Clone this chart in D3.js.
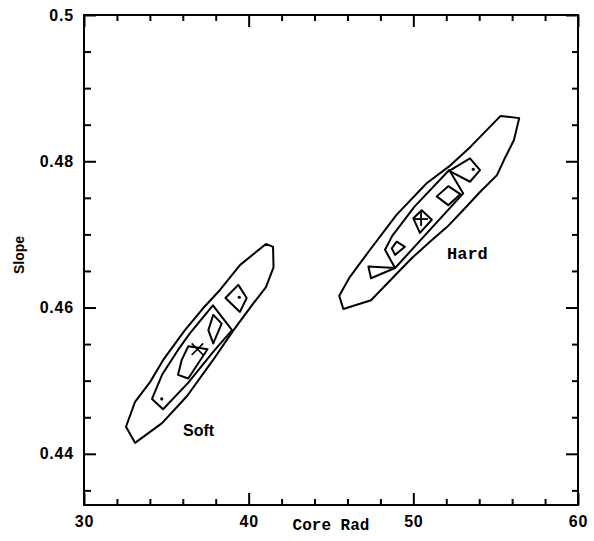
<!DOCTYPE html>
<html>
<head lang="en">
    <meta charset="UTF-8">
    <title></title>
    <script src="https://cdnjs.cloudflare.com/ajax/libs/d3/7.8.5/d3.min.js"></script>
    <style>
        body { margin: 0; background: #fff; }
    </style>
</head>
<body>

<script>

    // contour vertices: [core radius, slope]
    var softOuter = [[41.05,0.4687],[41.48,0.4683],[41.51,0.4655],[41.05,0.4628],[40.26,0.4605],
        [39.05,0.4568],[37.83,0.4528],[36.26,0.4479],[34.74,0.4442],[33.10,0.4415],[32.55,0.4437],
        [33.10,0.4471],[34.01,0.4498],[34.80,0.4528],[36.13,0.4569],[37.23,0.4599],[38.26,0.4624],
        [39.47,0.4658]];
    var softMiddle = [[37.83,0.4603],[38.99,0.4569],[37.83,0.4539],[36.32,0.4497],[34.80,0.4461],
        [34.13,0.4475],[34.74,0.4508],[35.71,0.4542],[36.44,0.4565]];
    var softInner = [
        [[39.37,0.4631],[39.88,0.4613],[39.47,0.4594],[38.59,0.4613]],
        [[37.85,0.4590],[38.36,0.4578],[37.85,0.4551],[37.55,0.4569]],
        [[36.33,0.4547],[37.50,0.4543],[36.33,0.4503],[35.71,0.4508],[35.93,0.4528]]
    ];
    var softDots = [[34.72,0.4475],[39.43,0.4614]];
    var softBest = [36.89,0.4543];

    var hardOuter = [[55.30,0.4862],[56.43,0.4859],[56.11,0.4829],[55.51,0.4802],[55.08,0.4781],
        [54.05,0.4758],[53.02,0.4733],[52.04,0.4710],[51.01,0.4690],[49.98,0.4669],[49.19,0.4651],
        [47.43,0.4610],[45.75,0.4598],
        [45.50,0.4616],[46.15,0.4642],[47.37,0.4679],[48.99,0.4727],[50.81,0.4770],[52.17,0.4793],
        [53.48,0.4820]];
    var hardMiddle = [[52.18,0.4788],[53.03,0.4756],[48.89,0.4654],[48.28,0.4679],[48.72,0.4698],
        [50.07,0.4738]];
    var hardInner = [
        [[52.18,0.4787],[53.44,0.4804],[54.05,0.4788],[53.44,0.4772]],
        [[51.42,0.4752],[52.12,0.4766],[52.85,0.4755],[52.12,0.4740]],
        [[50.00,0.4722],[50.51,0.4733],[51.12,0.4720],[50.40,0.4702]],
        [[48.69,0.4681],[48.99,0.4690],[49.49,0.4683],[48.89,0.4672]],
        [[47.27,0.4656],[48.89,0.4654],[47.43,0.4640]]
    ];
    var hardDots = [[53.64,0.4789]];
    var hardBest = [50.47,0.4721];

    var xMajor = [30, 40, 50, 60];
    var xMinor = [32, 34, 36, 38, 42, 44, 46, 48, 52, 54, 56, 58];
    var yMajor = [0.44, 0.46, 0.48, 0.5];
    var yMinor = [0.435, 0.445, 0.45, 0.455, 0.465, 0.47, 0.475, 0.485, 0.49, 0.495];

    var width = 594;
    var height = 541;
    var pLeft = 84, pRight = 578, pTop = 15, pBottom = 505;   // "top" is taken by window.top

    var x = d3.scaleLinear().domain([30, 60]).range([pLeft, pRight]);
    var y = d3.scaleLinear().domain([0.433, 0.5]).range([pBottom, pTop]);

    var svg = d3.select("body")
            .append("svg")
            .attr("width", width)
            .attr("height", height);

    // frame
    svg.append("rect")
            .attr("x", pLeft).attr("y", pTop)
            .attr("width", pRight - pLeft).attr("height", pBottom - pTop)
            .attr("fill", "none").attr("stroke", "#000").attr("stroke-width", 2);

    function tickAxis(axis, pos, vals, size, labels) {
        var g = svg.append("g")
                .attr("transform", pos)
                .call(axis.tickValues(vals).tickSize(-size).tickSizeOuter(0)
                        .tickPadding(labels ? 11 : 0)
                        .tickFormat(labels ? d3.format("") : ""));
        g.select(".domain").remove();
        g.selectAll("line").attr("stroke", "#000").attr("stroke-width", 2);
        g.selectAll("text")
                .attr("fill", "#000")
                .attr("font-family", "'Liberation Sans', Arial, sans-serif")
                .attr("font-weight", "bold")
                .attr("font-size", 16)
                .attr("letter-spacing", 0.8);
        return g;
    }

    tickAxis(d3.axisBottom(x), "translate(0," + pBottom + ")", xMajor, 12, true);
    tickAxis(d3.axisBottom(x), "translate(0," + pBottom + ")", xMinor, 6, false);
    tickAxis(d3.axisTop(x), "translate(0," + pTop + ")", xMajor, 12, false);
    tickAxis(d3.axisTop(x), "translate(0," + pTop + ")", xMinor, 6, false);
    tickAxis(d3.axisLeft(y), "translate(" + pLeft + ",0)", yMajor, 12, true)
            .selectAll("text").attr("x", -10);
    tickAxis(d3.axisLeft(y), "translate(" + pLeft + ",0)", yMinor, 7, false);
    tickAxis(d3.axisRight(y), "translate(" + pRight + ",0)", yMajor, 12, false);
    tickAxis(d3.axisRight(y), "translate(" + pRight + ",0)", yMinor, 6, false);

    // axis titles
    svg.append("text")
            .attr("x", (pLeft + pRight) / 2).attr("y", 530)
            .attr("text-anchor", "middle")
            .attr("font-family", "'Liberation Mono', 'Courier New', monospace")
            .attr("font-weight", "bold").attr("font-size", 16)
            .text("Core Rad");

    svg.append("text")
            .attr("transform", "translate(24,255) rotate(-90)")
            .attr("text-anchor", "middle")
            .attr("font-family", "'Liberation Sans', Arial, sans-serif")
            .attr("font-weight", "bold").attr("font-size", 14)
            .text("Slope");

    // contours
    var line = d3.line()
            .x(function(d){ return x(d[0]); })
            .y(function(d){ return y(d[1]); })
            .curve(d3.curveLinearClosed);

    var rings = [softOuter, softMiddle].concat(softInner, [hardOuter, hardMiddle], hardInner);

    svg.selectAll("path.contour")
            .data(rings)
            .enter()
            .append("path")
            .attr("class", "contour")
            .attr("d", line)
            .attr("fill", "none")
            .attr("stroke", "#000")
            .attr("stroke-width", 2)
            .attr("stroke-linejoin", "round");

    svg.selectAll("circle.dot")
            .data(softDots.concat(hardDots))
            .enter()
            .append("circle")
            .attr("class", "dot")
            .attr("cx", function(d){ return x(d[0]); })
            .attr("cy", function(d){ return y(d[1]); })
            .attr("r", 1.6)
            .attr("fill", "#000");

    // best fit markers: x for soft, + for hard
    svg.append("path")
            .attr("d", d3.symbol().type(d3.symbolX).size(90)())
            .attr("transform", "translate(" + x(softBest[0]) + "," + y(softBest[1]) + ")")
            .attr("fill", "none").attr("stroke", "#000").attr("stroke-width", 1.6);

    svg.append("g")
            .attr("transform", "translate(" + x(hardBest[0]) + "," + y(hardBest[1]) + ")")
            .selectAll("line")
            .data([[-7, 0, 7, 0], [0, -7, 0, 7]])
            .enter()
            .append("line")
            .attr("x1", function(d){ return d[0]; }).attr("y1", function(d){ return d[1]; })
            .attr("x2", function(d){ return d[2]; }).attr("y2", function(d){ return d[3]; })
            .attr("stroke", "#000").attr("stroke-width", 1.8);

    // labels
    svg.append("text")
            .attr("x", 183).attr("y", 436)
            .attr("font-family", "'Liberation Sans', Arial, sans-serif")
            .attr("font-weight", "bold").attr("font-size", 16)
            .text("Soft");

    svg.append("text")
            .attr("x", 447).attr("y", 259)
            .attr("font-family", "'Liberation Mono', 'Courier New', monospace")
            .attr("font-weight", "bold").attr("font-size", 17)
            .text("Hard");

</script>

</body>
</html>
